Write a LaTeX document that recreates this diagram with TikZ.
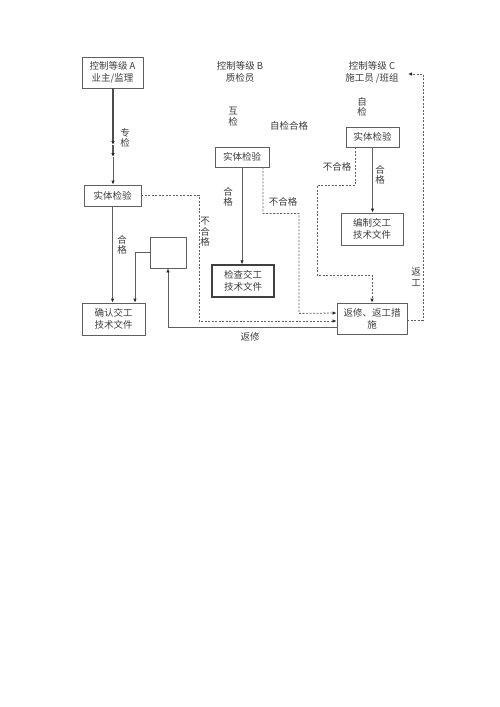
\documentclass[tikz,border=0pt]{standalone}
\usepackage{fontspec}
\setmainfont{Noto Sans CJK SC}
\usepackage{tikz}
\usetikzlibrary{arrows.meta}
\definecolor{linegray}{RGB}{95,95,95}
\definecolor{textgray}{RGB}{60,60,60}
\tikzset{box/.style={draw=linegray, line width=0.8pt, text=textgray, align=center, inner sep=0pt, font=\fontsize{9.5}{12}\selectfont},
	lbl/.style={text=textgray, align=center, inner sep=0pt, font=\fontsize{9.5}{10.5}\selectfont},
	conn/.style={draw=linegray, line width=0.8pt, -{Latex[length=4pt,width=3.5pt,color=black!85]}},
	dconn/.style={conn, dash pattern=on 2pt off 1.5pt}}

\begin{document}
\begin{tikzpicture}[x=1pt,y=-1pt]
	% page
	\useasboundingbox (0,0) rectangle (500,707);
	
	% level A
	\node[box, minimum width=61pt, minimum height=31pt] (ctrlA) at (112.5,72.5) {控制等级 A\\业主/监理};
	\node[box, minimum width=57pt, minimum height=21pt] (chkA) at (112.5,195.5) {实体检验};
	\node[box, minimum width=63pt, minimum height=32pt] (confirm) at (113.5,319) {确认交工\\技术文件};
	\node[box, minimum width=36pt, minimum height=31pt] (blank) at (168,252.5) {};
	% level B
	\node[lbl, font=\fontsize{9.5}{12}\selectfont] (ctrlB) at (240,72) {控制等级 B\\质检员};
	\node[box, minimum width=54pt, minimum height=20pt] (chkB) at (242,157) {实体检验};
	\node[box, line width=1.3pt, draw=black!75, minimum width=62pt, minimum height=32pt] (checkdoc) at (243,281) {检查交工\\技术文件};
	% level C
	\node[lbl, font=\fontsize{9.5}{12}\selectfont] (ctrlC) at (372,72) {控制等级 C\\施工员 /班组};
	\node[box, minimum width=53pt, minimum height=20pt] (chkC) at (372.5,137) {实体检验};
	\node[box, minimum width=62pt, minimum height=32pt] (compile) at (372,229) {编制交工\\技术文件};
	\node[box, minimum width=70pt, minimum height=31pt] (rework) at (372,318.5) {返修、返工措\\施};
	
	% labels
	\node[lbl] (zhuanjian) at (125,138) {专\\检};
	\node[lbl] (hujian) at (233,116.5) {互\\检};
	\node[lbl] (zijianhege) at (289,126) {自检合格};
	\node[lbl] (zijian) at (362,107) {自\\检};
	\node[lbl] (hegeA) at (122,245) {合\\格};
	\node[lbl] (buhegeA) at (205,232) {不\\合\\格};
	\node[lbl] (hegeB) at (228,197) {合\\格};
	\node[lbl] (buhegeB) at (283,202) {不合格};
	\node[lbl] (buhegeC) at (337,167) {不合格};
	\node[lbl] (hegeC) at (380,175) {合\\格};
	\node[lbl] (fanxiu) at (250,337) {返修};
	\node[lbl] (fangong) at (416,277) {返\\工};
	
	% arrows A
	\coordinate (a1) at (113,145);
	\coordinate (a2) at (113,157);
	\draw[conn, line width=1.4pt, draw=black!70] (ctrlA.south -| a1) -- (a1);
	\draw[conn, line width=1.2pt, draw=black!65] (a1) -- (a2);
	\draw[conn] (a2) -- (chkA.north -| a2);
	\draw[conn] (chkA.south) -- (chkA.south |- confirm.north);
	\draw[conn] (blank.west) -| ([xshift=21.5pt]confirm.north);
	\draw[dconn] (chkA.east) -- ++(58,0) |- ([yshift=-2.5pt]rework.west);
	\draw[conn] ([yshift=-8.5pt]rework.west) -| (blank.south);
	
	% arrows B
	\draw[conn] (chkB.south) -- (chkB.south |- checkdoc.north);
	\draw[dconn] ([xshift=21pt]chkB.south) -- ++(0,46) -| ++(36,100) -- ([yshift=5.5pt]rework.west);
	
	% arrows C
	\draw[conn] (chkC.south) -- (chkC.south |- compile.north);
	\draw[dconn] ([xshift=-17.5pt]chkC.south) -- ++(0,38) -| ++(-38,90) -| (rework.north);
	\coordinate (backC) at (408,74);
	\draw[dconn] ([yshift=-1.5pt]rework.east) -| (423,74) -- (backC);
\end{tikzpicture}
\end{document}
